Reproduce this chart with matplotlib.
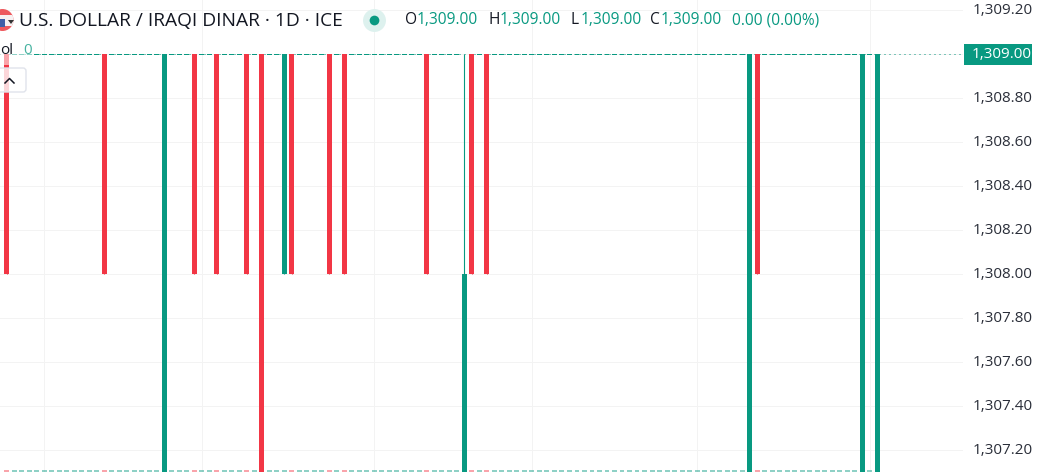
import matplotlib
matplotlib.use('Agg')
from matplotlib import pyplot as plt
from matplotlib.patches import Circle, FancyBboxPatch, Polygon, Rectangle
from matplotlib.ticker import FuncFormatter
from matplotlib.transforms import Affine2D, ScaledTranslation

# candles that moved, as bar index, open, high, low, close
bar_index = [0, 13, 21, 25, 28, 32, 34, 37, 38, 43, 45, 56, 61, 62, 64, 99, 100, 114, 116]
opens = [1309, 1309, 1307, 1309, 1309, 1309, 1309, 1308, 1309, 1309, 1309, 1309, 1307, 1309, 1309, 1307, 1309, 1307, 1307]
highs = [1309] * 19
lows = [1308, 1308, 1307, 1308, 1308, 1308, 1307, 1308, 1308, 1308, 1308, 1308, 1307, 1308, 1308, 1307, 1308, 1307, 1307]
closes = [1308, 1308, 1309, 1308, 1308, 1308, 1307, 1309, 1308, 1308, 1308, 1308, 1308, 1308, 1308, 1309, 1308, 1309, 1309]

price_ticks = [1307.2, 1307.4, 1307.6, 1307.8, 1308.0, 1308.2, 1308.4, 1308.6, 1308.8, 1309.0, 1309.2]
time_grid = [5, 26, 49, 70, 92, 115]
last_price = 1309.0
bar_count = 117

GREEN = '#089981'
RED = '#F23645'
GRID = '#F3F3F3'
TEXT = '#131722'

W, H = 1043, 472
PLOT_W = 963
BAR_STEP = 7.505
BAR_X0 = 6.6
BAR_W = 0.66
PX_PER_UNIT = 220.0
Y_1309 = 54.0
ONE_PX = 1 / PX_PER_UNIT

plt.rcParams['font.family'] = ['Open Sans', 'DejaVu Sans']

fig = plt.figure(figsize=(W / 100, H / 100), dpi=100, facecolor='white')
ax = fig.add_axes([0, 0, PLOT_W / W, 1])
ax.set_xlim(-BAR_X0 / BAR_STEP, (PLOT_W - BAR_X0) / BAR_STEP)
y_min = 1309 - (H - Y_1309) / PX_PER_UNIT
ax.set_ylim(y_min, 1309 + Y_1309 / PX_PER_UNIT)

# top left pixel coords for the overlay bits
px = Affine2D().scale(1, -1).translate(0, H)


def price_label(v, pos):
    # the last price sits in its own box
    if abs(v - last_price) < 0.01:
        return ''
    return '{:,.2f}'.format(v)


for side in ax.spines.values():
    side.set_visible(False)
ax.set_xticks(time_grid)
ax.set_yticks(price_ticks)
ax.tick_params(axis='x', length=0, labelbottom=False)
ax.tick_params(axis='y', length=0, labelleft=False, labelright=True, pad=7,
               labelsize=11, labelcolor='#2A2E39')
ax.yaxis.set_major_formatter(FuncFormatter(price_label))
ax.grid(color=GRID, linewidth=0.72)
ax.set_axisbelow(True)

up = fig.dpi_scale_trans
for tick in ax.yaxis.get_major_ticks():
    tick.label2.set_transform(tick.label2.get_transform() + ScaledTranslation(0, 1.5 / 100, up))

# last price line is dotted, the flat candles make it look dashed
ax.plot([-1, 127], [last_price, last_price], color=GREEN, lw=0.72, ls=(0, (1, 4)), zorder=2)
flat_bars = [i for i in range(bar_count) if i not in bar_index]
ax.bar(flat_bars, ONE_PX, bottom=last_price - ONE_PX, width=BAR_W, color=GREEN, linewidth=0, zorder=3)

bar_colors = {}
for i, o, h, l, c in zip(bar_index, opens, highs, lows, closes):
    col = GREEN if c >= o else RED
    bar_colors[i] = col
    ax.vlines(i, l, h, color=col, lw=0.8, zorder=3)
    ax.bar(i, abs(c - o), bottom=min(o, c), width=BAR_W, color=col, linewidth=0, zorder=3)

# zero volume still leaves a thin sliver on the bottom edge
all_bars = list(range(bar_count))
ax.bar(all_bars, 2 * ONE_PX, bottom=y_min, width=BAR_W, linewidth=0, zorder=4, alpha=0.45,
       color=[bar_colors.get(i, GREEN) for i in all_bars])

# price label on the axis
fig.add_artist(Rectangle((964, 44), 68, 21, transform=px, facecolor=GREEN, edgecolor='none'))
fig.text(1002, 54.5, '{:,.2f}'.format(last_price), color='white', fontsize=11,
         ha='center', va='center', transform=px)

# legend background under the vol text and button
fig.add_artist(Rectangle((0, 40), 34, 25, transform=px, facecolor='white', alpha=0.55,
                         edgecolor='none', zorder=4))
fig.add_artist(FancyBboxPatch((-6, 68), 32, 24, transform=px,
                              boxstyle='round,pad=0,rounding_size=3',
                              facecolor=(1, 1, 1, 0.8), edgecolor='#E0E3EB', linewidth=1, zorder=4))
fig.add_artist(plt.Line2D([5, 9.5, 14], [83, 78.5, 83], transform=px, color=TEXT, lw=1.1, zorder=5))

# flag icon, iraq behind with the us corner on top
flag = Circle((2.5, 20), 11, transform=px, facecolor='#EE5A5F', edgecolor='none', zorder=4)
fig.add_artist(flag)
band = Rectangle((-9, 15), 23, 11, transform=px, facecolor='#F7F2F2', edgecolor='none', zorder=4)
fig.add_artist(band)
band.set_clip_path(flag)
blue = Rectangle((-9, 19), 14, 8, transform=px, facecolor='#3F5FA8', edgecolor='none', zorder=4)
fig.add_artist(blue)
blue.set_clip_path(flag)
fig.add_artist(Polygon([(8, 20), (14, 20), (11, 24)], transform=px, facecolor='#333333',
                       edgecolor='none', zorder=4))

fig.text(19, 21, 'U.S. DOLLAR / IRAQI DINAR · 1D · ICE', color=TEXT, fontsize=13.8,
         ha='left', va='center', zorder=5, transform=px)
fig.text(0, 50.5, 'ol', color=TEXT, fontsize=11, ha='left', va='center', zorder=5, transform=px)
fig.text(23, 50.5, '0', color=GREEN, fontsize=11, ha='left', va='center', alpha=0.75, zorder=5, transform=px)

# market status dot
fig.add_artist(plt.Line2D([373.5], [20], transform=px, marker='o', ms=16.5, color='#DDF1EE', mew=0))
fig.add_artist(plt.Line2D([373.5], [20], transform=px, marker='o', ms=7, color=GREEN, mew=0))

ohlc = [(405, 'O', 417), (488, 'H', 500), (570, 'L', 581), (650, 'C', 661)]
for lx, letter, vx in ohlc:
    fig.text(lx, 20.5, letter, color=TEXT, fontsize=11.2, ha='left', va='center', transform=px)
    fig.text(vx, 20.5, '{:,.2f}'.format(last_price), color=GREEN, fontsize=11.2,
             ha='left', va='center', transform=px)
fig.text(732, 20.5, '0.00 (0.00%)', color=GREEN, fontsize=11.2, ha='left', va='center', transform=px)

fig.savefig('out.png', dpi=100)
